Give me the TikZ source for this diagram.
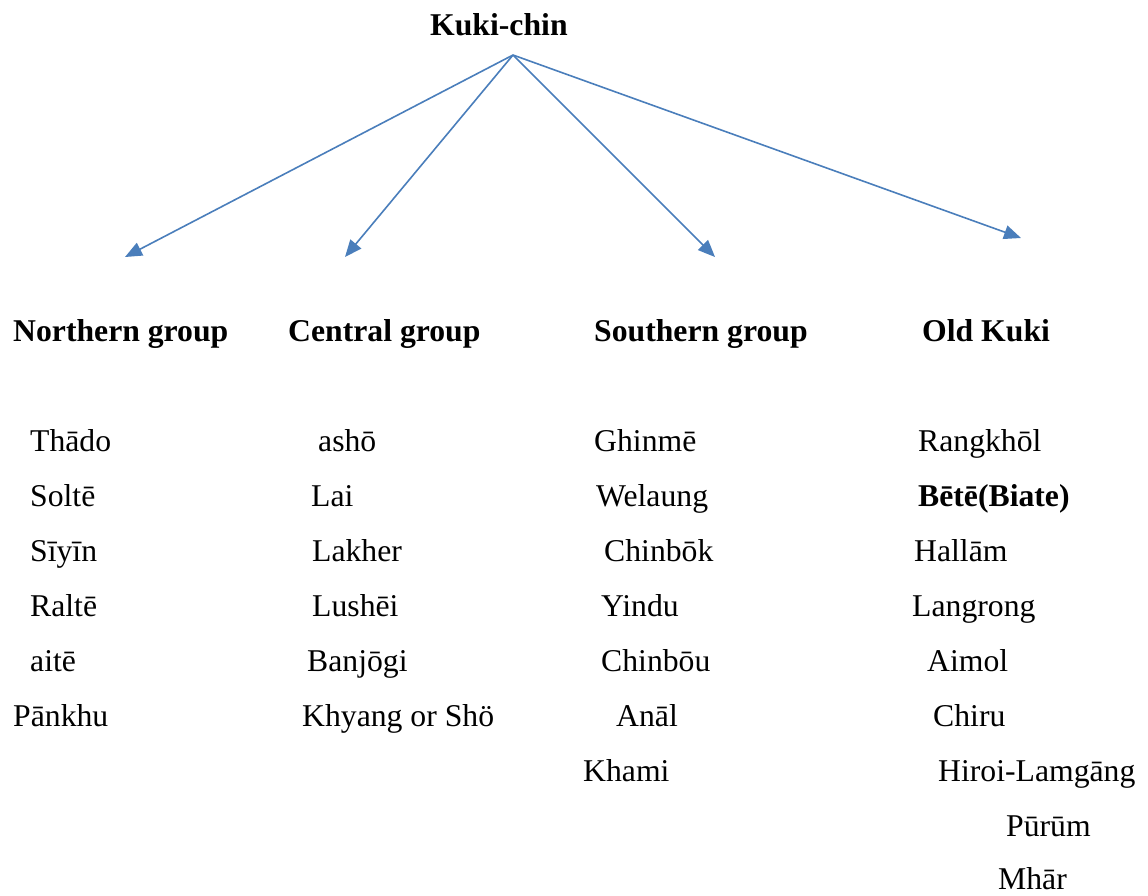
\documentclass[tikz,border=0pt]{standalone}
\usepackage{fontspec}
\setmainfont{Liberation Serif}
\usetikzlibrary{arrows.meta}
\definecolor{arrowblue}{HTML}{4A7EBB}
\tikzset{x=1pt, y=-1pt,
lang/.style={
anchor=base west,
inner sep=0pt,
font=\fontsize{31.7}{37}\selectfont},
head/.style={
lang,
font=\fontsize{31.7}{37}\selectfont\bfseries},
branch/.style={
draw=arrowblue,
line width=1.6pt,
-{Triangle[length=17pt,width=14pt]}}}

\begin{document}
\begin{tikzpicture}
\useasboundingbox (0,0) rectangle (1148,895);
\node[head] (kc) at (430,35) {Kuki-chin};
\coordinate (root) at (513,55);
\coordinate (tn) at (125,257);
\coordinate (tc) at (345,257);
\coordinate (ts) at (715,257);
\coordinate (to) at (1021,238);
\draw[branch] (root) -- (tn);
\draw[branch] (root) -- (tc);
\draw[branch] (root) -- (ts);
\draw[branch] (root) -- (to);
% group headings
\node[head] (ng) at (13,341) {Northern group};
\node[head] (cg) at (288,341) {Central group};
\node[head] (sg) at (594,341) {Southern group};
\node[head] (og) at (922,341) {Old Kuki};
% northern
\node[lang] (n1) at (30,451) {Thādo};
\node[lang] (n2) at (30,506) {Soltē};
\node[lang] (n3) at (30,561) {Sīyīn};
\node[lang] (n4) at (30,616) {Raltē};
\node[lang] (n5) at (30,671) {aitē};
\node[lang] (n6) at (13,726) {Pānkhu};
% central
\node[lang] (c1) at (318,451) {ashō};
\node[lang] (c2) at (311,506) {Lai};
\node[lang] (c3) at (312,561) {Lakher};
\node[lang] (c4) at (312,616) {Lushēi};
\node[lang] (c5) at (307,671) {Banjōgi};
\node[lang] (c6) at (302,726) {Khyang or Shö};
% southern
\node[lang] (s1) at (594,451) {Ghinmē};
\node[lang] (s2) at (596,506) {Welaung};
\node[lang] (s3) at (604,561) {Chinbōk};
\node[lang] (s4) at (601,616) {Yindu};
\node[lang] (s5) at (601,671) {Chinbōu};
\node[lang] (s6) at (616,726) {Anāl};
\node[lang] (s7) at (583,781) {Khami};
% old kuki
\node[lang] (o1) at (918,451) {Rangkhōl};
\node[head] (o2) at (918,506) {Bētē(Biate)};
\node[lang] (o3) at (914,561) {Hallām};
\node[lang] (o4) at (912,616) {Langrong};
\node[lang] (o5) at (927,671) {Aimol};
\node[lang] (o6) at (933,726) {Chiru};
\node[lang] (o7) at (938,781) {Hiroi-Lamgāng};
\node[lang] (o8) at (1006,836) {Pūrūm};
\node[lang] (o9) at (998,889) {Mhār};
\end{tikzpicture}
\end{document}
